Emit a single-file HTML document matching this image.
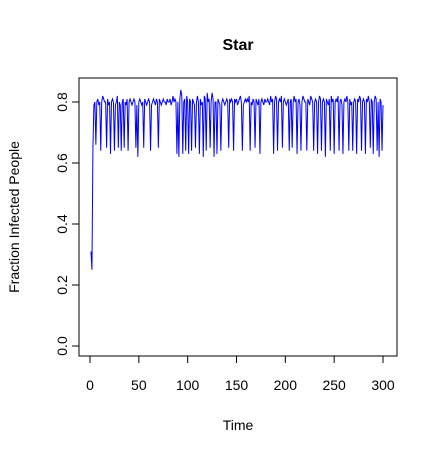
<!DOCTYPE html>
<html><head><meta charset="utf-8"><style>
body{margin:0;background:#fff}
svg{display:block;font-family:"Liberation Sans",Arial,sans-serif}
</style></head><body>
<svg id="chart" width="436" height="454">
<rect x="0" y="0" width="436" height="454" fill="#fff"/>
<text x="238" y="50" text-anchor="middle" font-size="16" font-weight="bold">Star</text>
<rect x="79" y="78" width="318" height="278" fill="none" stroke="#000" stroke-width="1"/>
<g id="xaxis"></g>
<g id="yaxis"></g>
<text x="238" y="430" text-anchor="middle" font-size="14">Time</text>
<text transform="translate(19,217) rotate(-90)" text-anchor="middle" font-size="14">Fraction Infected People</text>
<path id="series" fill="none" stroke="#0000ff" stroke-width="1"/>
</svg>
<script>
const xTicks=[0,50,100,150,200,250,300];
const yTicks=[0.0,0.2,0.4,0.6,0.8];
const yTickLabels=["0.0","0.2","0.4","0.6","0.8"];
const values=[
.31,.25,.65,.79,.80,.66,.80,.81,.79,.80,.64,.80,.82,.81,.80,.80,.65,.81,.79,.80,
.63,.80,.81,.80,.64,.79,.80,.82,.65,.80,.79,.64,.80,.81,.65,.80,.79,.81,.64,.80,
.81,.80,.79,.80,.81,.80,.65,.79,.62,.80,.81,.80,.79,.80,.65,.81,.80,.79,.80,.81,
.80,.64,.79,.80,.81,.80,.79,.81,.80,.65,.81,.80,.79,.80,.81,.80,.80,.79,.81,.80,
.80,.81,.79,.80,.82,.80,.81,.80,.63,.80,.62,.81,.84,.82,.63,.80,.81,.64,.82,.80,
.63,.81,.80,.64,.81,.80,.79,.65,.80,.82,.80,.63,.81,.79,.80,.62,.82,.81,.64,.83,
.80,.81,.65,.80,.83,.81,.62,.80,.80,.63,.81,.80,.79,.64,.80,.81,.80,.79,.80,.81,
.80,.65,.81,.80,.81,.80,.64,.81,.80,.81,.79,.80,.81,.82,.80,.64,.79,.80,.81,.80,
.81,.80,.82,.64,.80,.79,.81,.80,.65,.81,.80,.79,.81,.63,.80,.81,.80,.79,.81,.80,
.80,.81,.80,.79,.82,.80,.81,.63,.80,.82,.81,.64,.80,.81,.80,.82,.65,.80,.81,.80,
.79,.80,.81,.64,.80,.81,.65,.80,.82,.80,.81,.63,.80,.81,.79,.64,.80,.82,.81,.80,
.80,.64,.81,.80,.79,.82,.81,.80,.64,.80,.81,.80,.63,.80,.82,.81,.64,.80,.81,.80,
.62,.81,.80,.79,.81,.64,.82,.80,.81,.63,.80,.81,.80,.82,.64,.80,.81,.79,.63,.80,
.81,.80,.82,.80,.64,.81,.79,.80,.64,.80,.81,.80,.63,.81,.80,.82,.81,.64,.80,.81,
.80,.63,.81,.80,.82,.80,.65,.81,.80,.63,.80,.82,.81,.64,.80,.62,.81,.80,.64,.79];
const NS="http://www.w3.org/2000/svg";
function sx(t){return 90+(t)*(383-90)/300;}
function sy(v){return 346-v*(346-102)/0.8;}
const xa=document.getElementById('xaxis'),ya=document.getElementById('yaxis');
function mk(tag,attrs,parent){const e=document.createElementNS(NS,tag);for(const k in attrs)e.setAttribute(k,attrs[k]);parent.appendChild(e);return e;}
const xl=mk('line',{x1:sx(0),x2:sx(300),y1:356,y2:356,stroke:'#000'},xa);


xTicks.forEach(t=>{
  const l=mk('line',{x1:sx(t),x2:sx(t),y1:356,y2:363,stroke:'#000'},xa);
  
  
  const tx=mk('text',{x:sx(t),y:390,'text-anchor':'middle','font-size':14},xa);
  tx.textContent=t;
  
  
});
const yl=mk('line',{x1:79,x2:79,y1:sy(0),y2:sy(0.8),stroke:'#000'},ya);


yTicks.forEach((v,i)=>{
  const l=mk('line',{x1:72,x2:79,y1:sy(v),y2:sy(v),stroke:'#000'},ya);
  
  
  const tx=mk('text',{transform:`translate(67,${sy(v)}) rotate(-90)`,'text-anchor':'middle','font-size':14},ya);
  tx.textContent=yTickLabels[i];
  
  
});
let d='';
values.forEach((v,i)=>{d+=(i?'L':'M')+sx(i+1).toFixed(2)+','+sy(v).toFixed(2);});
document.getElementById('series').setAttribute('d',d);
</script>
</body></html>
